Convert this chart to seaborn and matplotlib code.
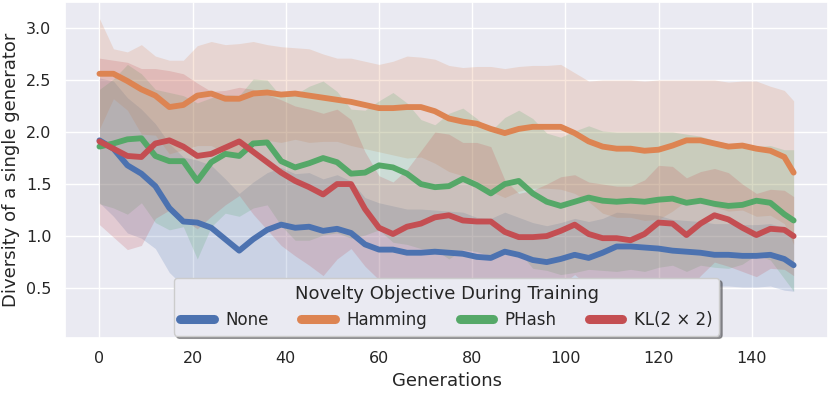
import numpy as np
import pandas as pd
import matplotlib
matplotlib.use("Agg")
import matplotlib.pyplot as plt
import seaborn as sns

sns.set_theme(style="darkgrid", palette="deep")

generations = list(range(0, 148, 3)) + [149]

none_mean = [1.92, 1.84, 1.68, 1.60, 1.48, 1.27, 1.14, 1.13, 1.08, 0.97,
             0.86, 0.97, 1.06, 1.11, 1.08, 1.09, 1.05, 1.07, 1.03, 0.92,
             0.87, 0.87, 0.84, 0.84, 0.85, 0.84, 0.83, 0.80, 0.79, 0.85,
             0.82, 0.77, 0.75, 0.78, 0.82, 0.79, 0.84, 0.90, 0.90, 0.89,
             0.88, 0.86, 0.85, 0.84, 0.82, 0.82, 0.81, 0.81, 0.82, 0.78, 0.72]
none_sd = [0.60, 0.65, 0.65, 0.62, 0.60, 0.62, 0.62, 0.60, 0.60, 0.58,
           0.55, 0.55, 0.55, 0.55, 0.52, 0.52, 0.50, 0.52, 0.50, 0.45,
           0.45, 0.42, 0.42, 0.42, 0.40, 0.40, 0.40, 0.38, 0.38, 0.38,
           0.36, 0.36, 0.35, 0.35, 0.35, 0.35, 0.33, 0.33, 0.32, 0.32,
           0.32, 0.30, 0.30, 0.30, 0.30, 0.30, 0.30, 0.30, 0.30, 0.30, 0.25]

hamming_mean = [2.56, 2.56, 2.49, 2.41, 2.35, 2.24, 2.26, 2.35, 2.37, 2.32,
                2.32, 2.37, 2.38, 2.36, 2.37, 2.35, 2.33, 2.31, 2.29, 2.26,
                2.23, 2.23, 2.24, 2.24, 2.20, 2.13, 2.10, 2.08, 2.03, 1.99,
                2.03, 2.05, 2.05, 2.05, 1.99, 1.91, 1.86, 1.84, 1.84, 1.82,
                1.83, 1.87, 1.92, 1.92, 1.89, 1.86, 1.87, 1.84, 1.82, 1.76, 1.61]
hamming_sd = [0.53, 0.24, 0.28, 0.43, 0.38, 0.45, 0.43, 0.48, 0.50, 0.52,
              0.53, 0.50, 0.46, 0.46, 0.44, 0.45, 0.42, 0.40, 0.42, 0.42,
              0.42, 0.45, 0.49, 0.48, 0.50, 0.51, 0.52, 0.55, 0.60, 0.62,
              0.60, 0.59, 0.59, 0.60, 0.58, 0.58, 0.64, 0.66, 0.66, 0.67,
              0.67, 0.63, 0.58, 0.58, 0.61, 0.62, 0.62, 0.65, 0.62, 0.64, 0.69]

phash_mean = [1.86, 1.89, 1.93, 1.94, 1.77, 1.72, 1.72, 1.53, 1.71, 1.79,
              1.77, 1.89, 1.90, 1.72, 1.66, 1.70, 1.75, 1.71, 1.60, 1.61,
              1.68, 1.66, 1.60, 1.50, 1.47, 1.48, 1.55, 1.49, 1.41, 1.50,
              1.53, 1.41, 1.33, 1.29, 1.33, 1.37, 1.34, 1.33, 1.34, 1.33,
              1.35, 1.36, 1.32, 1.34, 1.31, 1.29, 1.30, 1.34, 1.32, 1.21, 1.15]
phash_sd = [0.55, 0.62, 0.72, 0.62, 0.64, 0.66, 0.63, 0.75, 0.62, 0.57,
            0.58, 0.62, 0.60, 0.62, 0.70, 0.74, 0.74, 0.68, 0.62, 0.60,
            0.62, 0.72, 0.68, 0.62, 0.60, 0.70, 0.68, 0.64, 0.60, 0.64,
            0.68, 0.72, 0.66, 0.66, 0.68, 0.69, 0.67, 0.67, 0.66, 0.67,
            0.65, 0.64, 0.66, 0.62, 0.61, 0.60, 0.57, 0.52, 0.55, 0.62, 0.68]

kl_mean = [1.91, 1.84, 1.77, 1.76, 1.89, 1.92, 1.86, 1.77, 1.79, 1.85,
           1.91, 1.81, 1.71, 1.61, 1.53, 1.47, 1.40, 1.50, 1.50, 1.26,
           1.08, 1.02, 1.09, 1.12, 1.18, 1.20, 1.15, 1.14, 1.14, 1.04,
           0.99, 0.99, 1.00, 1.05, 1.11, 1.02, 0.98, 0.98, 0.96, 1.02,
           1.13, 1.12, 1.01, 1.12, 1.20, 1.16, 1.08, 1.01, 1.07, 1.06, 1.00]
kl_sd = [0.80, 0.85, 0.90, 0.85, 0.72, 0.67, 0.70, 0.70, 0.60, 0.55,
         0.52, 0.60, 0.65, 0.70, 0.72, 0.75, 0.78, 0.72, 0.62, 0.55,
         0.50, 0.50, 0.55, 0.70, 0.82, 0.78, 0.75, 0.76, 0.72, 0.50,
         0.42, 0.45, 0.50, 0.52, 0.48, 0.50, 0.52, 0.50, 0.52, 0.52,
         0.55, 0.55, 0.55, 0.50, 0.45, 0.45, 0.42, 0.40, 0.38, 0.38, 0.38]

labels = ["None", "Hamming", "PHash", "KL(2 × 2)"]
means = [none_mean, hamming_mean, phash_mean, kl_mean]
sds = [none_sd, hamming_sd, phash_sd, kl_sd]

rows = []
for lab, m in zip(labels, means):
    for g, v in zip(generations, m):
        rows.append({"Generations": g, "Diversity": v, "Objective": lab})
df = pd.DataFrame(rows)

colors = sns.color_palette("deep", 4)

fig, ax = plt.subplots(figsize=(8.3, 3.94), dpi=100)
fig.subplots_adjust(left=0.078, right=0.998, bottom=0.142, top=0.995)

for lab, m, s, c in zip(labels, means, sds, colors):
    m = np.array(m)
    s = np.array(s)
    ax.fill_between(generations, m - s, m + s, color=c, alpha=0.2, linewidth=0)

sns.lineplot(data=df, x="Generations", y="Diversity", hue="Objective",
             hue_order=labels, palette=colors, linewidth=4.2, ax=ax)
for line in ax.get_lines():
    line.set_solid_joinstyle("round")
    line.set_solid_capstyle("round")

ax.set_ylim(0.02, 3.25)
ax.set_yticks([0.5, 1.0, 1.5, 2.0, 2.5, 3.0])
ax.set_xticks(range(0, 141, 20))
ax.tick_params(labelsize=11.5)
ax.set_xlabel("Generations", fontsize=13)
ax.set_ylabel("Diversity of a single generator", fontsize=13)

leg = ax.legend(title="Novelty Objective During Training", ncol=4,
                loc="lower center", bbox_to_anchor=(0.5, 0.0),
                borderaxespad=0.15, fontsize=12, title_fontsize=13,
                shadow=True, frameon=True, edgecolor="0.8",
                handlelength=2.0, columnspacing=1.95, handletextpad=0.7)
for line in leg.get_lines():
    line.set_linewidth(6.5)
    line.set_solid_capstyle("round")

fig.savefig("out.png", dpi=100)
